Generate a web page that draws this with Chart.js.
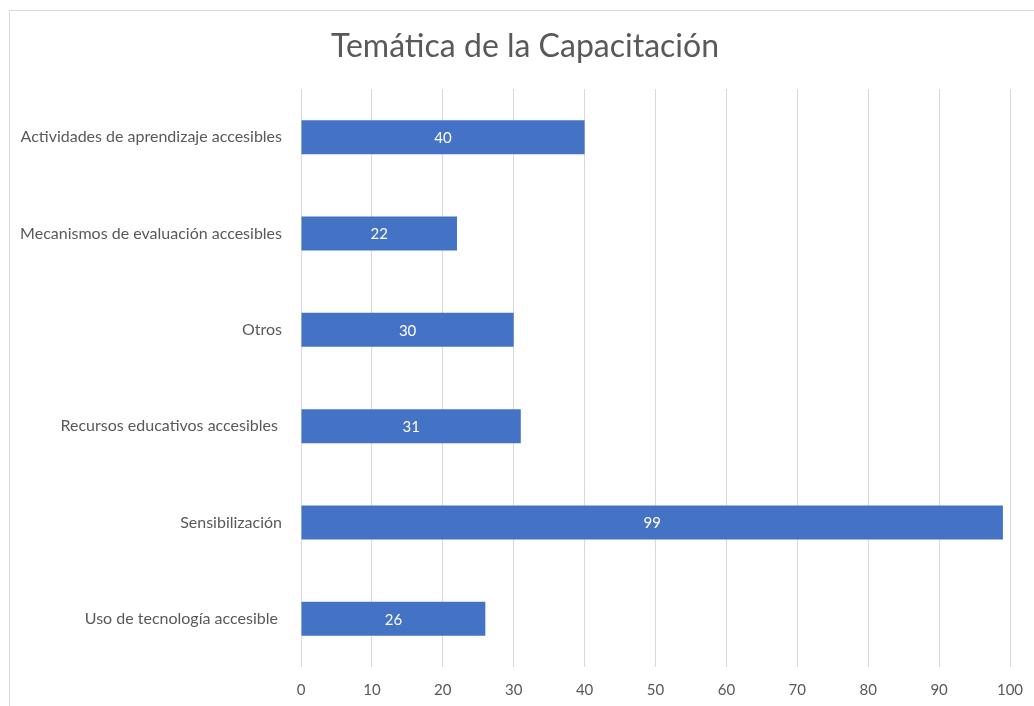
<!DOCTYPE html>
<html>
<head>
<meta charset="utf-8">
<script src="https://cdn.jsdelivr.net/npm/chart.js@4"></script>
<style>
  html, body { margin: 0; padding: 0; background: #fff; overflow: hidden; }
  #box { position: relative; width: 1034px; height: 706px; }
</style>
</head>
<body>
<div id="box"><canvas id="chart" width="1034" height="706"></canvas></div>
<script>
/* ---------- DATA ---------- */
const chartTitle = "Temática de la Capacitación";
const categories = [
  "Actividades de aprendizaje accesibles",
  "Mecanismos de evaluación accesibles",
  "Otros",
  "Recursos educativos accesibles ",
  "Sensibilización",
  "Uso de tecnología accesible "
];
const values = [40, 22, 30, 31, 99, 26];
const xTicks = [0, 10, 20, 30, 40, 50, 60, 70, 80, 90, 100];

const FONT = "Lato, 'Open Sans', sans-serif";
const GREY = "#595959";

/* ---------- PLUGINS ---------- */
// outer frame (only top/left edges show) + title
const framePlugin = {
  id: "frame",
  beforeDraw(chart) {
    const ctx = chart.ctx;
    ctx.save();
    ctx.fillStyle = "#fff";
    ctx.fillRect(0, 0, chart.width, chart.height);
    ctx.strokeStyle = "#d9d9d9";
    ctx.lineWidth = 1;
    ctx.strokeRect(9.5, 10.5, 1100, 800);

    ctx.fillStyle = GREY;
    ctx.font = "32px " + FONT;
    ctx.textAlign = "center";
    ctx.textBaseline = "middle";
    ctx.fillText(chartTitle, 525, 47);
    ctx.restore();
  }
};

// white value labels in the middle of each bar
const valueLabels = {
  id: "valueLabels",
  afterDatasetsDraw(chart) {
    const ctx = chart.ctx;
    const meta = chart.getDatasetMeta(0);
    ctx.save();
    ctx.fillStyle = "#fff";
    ctx.font = "15px " + FONT;
    ctx.textAlign = "center";
    ctx.textBaseline = "middle";
    meta.data.forEach((bar, i) => {
      const p = bar.getProps(["x", "y", "base"], true);
      ctx.fillText(values[i], (p.x + p.base) / 2, p.y + 1);
    });
    ctx.restore();
  }
};

/* ---------- CHART ---------- */
new Chart(document.getElementById("chart"), {
  type: "bar",
  data: {
    labels: categories,
    datasets: [{
      data: values,
      backgroundColor: "#4472C4",
      borderWidth: 0,
      barPercentage: 0.353,
      categoryPercentage: 1
    }]
  },
  options: {
    indexAxis: "y",
    responsive: false,
    animation: false,
    layout: { padding: { left: 0, right: 24, top: 89, bottom: 0 } },
    plugins: {
      legend: { display: false },
      tooltip: { enabled: false },
      title: { display: false }
    },
    scales: {
      x: {
        min: 0,
        max: 100,
        afterBuildTicks(scale) {
          scale.ticks = xTicks.map(v => ({ value: v }));
        },
        afterFit(scale) {
          scale.height = 39;
          scale.paddingLeft = 0;
          scale.paddingRight = 0;
        },
        grid: { color: "#d9d9d9", lineWidth: 1, drawTicks: false },
        border: { display: false },
        ticks: {
          color: GREY,
          padding: 14,
          font: { family: FONT, size: 15 }
        }
      },
      y: {
        afterFit(scale) { scale.width = 301; },
        grid: { display: false, drawTicks: false },
        border: { display: false },
        ticks: {
          color: GREY,
          padding: 19,
          font: { family: FONT, size: 16 }
        }
      }
    }
  },
  plugins: [framePlugin, valueLabels]
});
</script>
</body>
</html>
